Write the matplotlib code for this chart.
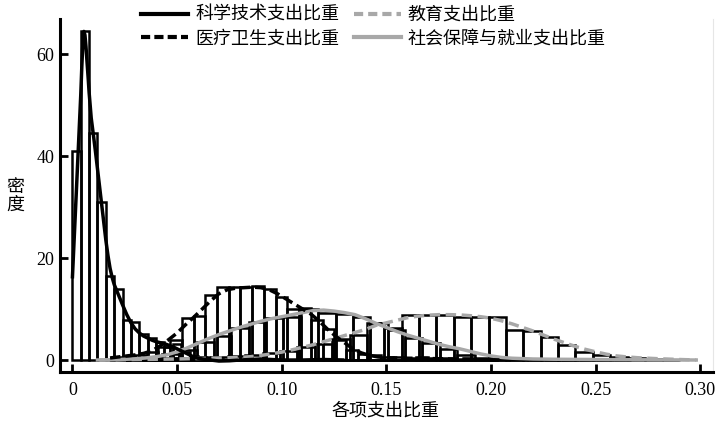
import numpy as np
import matplotlib
matplotlib.use("Agg")
import matplotlib.pyplot as plt
from matplotlib.lines import Line2D

plt.rcParams['font.family'] = ['Liberation Serif', 'Noto Sans CJK SC', 'DejaVu Sans']

# ---------------- data ----------------
series_names = ["科学技术支出比重", "医疗卫生支出比重", "教育支出比重", "社会保障与就业支出比重"]

# histogram densities (bin start, bin width, heights)
sci_bin_start, sci_bin_width = 0.0, 0.004
sci_hist = [41, 64.5, 44.5, 31, 16.5, 14, 7.8, 7.5, 5.2, 4.3, 3.6, 2.5, 3.2, 1.5, 0.8, 0.5, 0.3, 0.2]

med_bin_start, med_bin_width = 0.0187, 0.0056
med_hist = [0.5, 0.8, 1.0, 1.6, 2.6, 3.9, 8.2, 8.6, 12.7, 14.4, 14.3, 14.4, 14.5, 14.0, 12.3,
            10.0, 10.2, 7.8, 6.0, 4.0, 2.0, 1.2, 0.9, 0.5, 0.6, 0.4, 0.5, 0.3, 0.3, 0.2, 0.3, 0.1, 0.1]

edu_bin_start, edu_bin_width = 0.0411, 0.0083
edu_hist = [0.3, 0.4, 0.5, 0.6, 0.8, 1.0, 1.3, 1.8, 2.5, 3.2, 4.2, 5.0, 7.2, 6.2,
            8.8, 8.8, 8.8, 8.5, 8.4, 8.4, 5.9, 5.6, 4.6, 2.9, 1.6, 1.0, 0.6, 0.3, 0.2, 0.1]

soc_bin_start, soc_bin_width = 0.0178, 0.0083
soc_hist = [0.2, 0.3, 0.6, 1.2, 2.0, 3.5, 4.8, 6.2, 7.4, 8.2, 8.5, 10.0, 9.2, 9.0, 8.4, 7.2,
            5.8, 4.3, 3.3, 2.1, 1.0, 0.3, 0.3, 0.2, 0.1, 0.1, 0.05, 0.05, 0.05, 0.05]

# density curves
sci_kde_x = [0.000, 0.001, 0.002, 0.003, 0.004, 0.0045, 0.005, 0.0055, 0.006, 0.0065, 0.007, 0.0076,
             0.008, 0.009, 0.010, 0.011, 0.012, 0.013, 0.014, 0.015, 0.016, 0.017, 0.018, 0.019,
             0.020, 0.022, 0.024, 0.026, 0.028, 0.030, 0.032, 0.034, 0.036, 0.038, 0.040, 0.042,
             0.044, 0.046, 0.048, 0.050, 0.052, 0.054, 0.056, 0.058, 0.060, 0.063, 0.066, 0.070,
             0.075, 0.080, 0.085, 0.090, 0.095, 0.100, 0.110, 0.120, 0.130]
sci_kde_y = [16, 25, 34, 43, 52, 57.5, 62, 64.5, 63.8, 61.5, 58.5, 55,
             52.5, 47.5, 44.3, 41, 37.5, 34, 30.5, 27, 23.5, 20.5, 18, 16.2,
             14.8, 12.8, 10.8, 8.9, 7.3, 6.1, 5.3, 4.7, 4.3, 3.9, 3.6, 3.4,
             3.2, 2.9, 2.6, 2.2, 1.8, 1.4, 1.0, 0.6, 0.35, 0.15, 0.0, -0.2,
             -0.15, 0.0, 0.1, 0.2, 0.1, 0.0, 0.0, 0.1, 0.0]

med_kde_x = [0.018, 0.022, 0.026, 0.030, 0.034, 0.038, 0.042, 0.046, 0.050, 0.054, 0.058, 0.062,
             0.066, 0.070, 0.074, 0.078, 0.082, 0.086, 0.090, 0.094, 0.098, 0.102, 0.106, 0.110,
             0.114, 0.118, 0.122, 0.126, 0.130, 0.134, 0.138, 0.142, 0.146, 0.150, 0.160, 0.170,
             0.180, 0.190, 0.204]
med_kde_y = [0.4, 0.6, 0.8, 1.0, 1.3, 1.8, 2.8, 4.0, 5.3, 6.9, 8.4, 10.0,
             11.6, 13.0, 13.8, 14.1, 14.2, 14.3, 14.2, 13.8, 13.0, 12.0, 11.0, 10.0,
             9.0, 7.6, 6.0, 4.6, 3.4, 2.2, 1.4, 0.9, 0.6, 0.45, 0.35, 0.3,
             0.2, 0.1, 0.0]

edu_kde_x = [0.013, 0.030, 0.050, 0.060, 0.070, 0.080, 0.085, 0.090, 0.095, 0.100, 0.105, 0.110,
             0.115, 0.120, 0.125, 0.130, 0.135, 0.140, 0.145, 0.150, 0.155, 0.160, 0.165, 0.170,
             0.175, 0.180, 0.185, 0.190, 0.195, 0.200, 0.205, 0.210, 0.215, 0.220, 0.225, 0.230,
             0.235, 0.240, 0.245, 0.250, 0.255, 0.260, 0.265, 0.270, 0.280, 0.290, 0.298]
edu_kde_y = [0.0, 0.1, 0.2, 0.3, 0.4, 0.5, 0.65, 0.9, 1.2, 1.55, 2.0, 2.5,
             3.0, 3.6, 4.2, 4.8, 5.4, 6.0, 6.8, 7.3, 7.8, 8.3, 8.6, 8.8,
             8.9, 8.9, 8.85, 8.7, 8.5, 8.2, 7.7, 7.1, 6.4, 5.7, 4.9, 4.1,
             3.4, 2.7, 2.1, 1.6, 1.15, 0.8, 0.6, 0.45, 0.25, 0.1, 0.0]

soc_kde_x = [0.012, 0.020, 0.029, 0.035, 0.040, 0.045, 0.050, 0.055, 0.060, 0.065, 0.070, 0.075,
             0.080, 0.085, 0.090, 0.095, 0.100, 0.105, 0.110, 0.115, 0.120, 0.125, 0.130, 0.135,
             0.140, 0.145, 0.150, 0.155, 0.160, 0.165, 0.170, 0.175, 0.180, 0.185, 0.190, 0.195,
             0.200, 0.205, 0.210, 0.220, 0.230, 0.250, 0.270, 0.298]
soc_kde_y = [0.0, 0.05, 0.2, 0.4, 0.65, 1.0, 1.6, 2.4, 3.3, 4.2, 5.0, 5.7,
             6.4, 7.0, 7.6, 8.1, 8.5, 8.9, 9.3, 9.7, 9.8, 9.6, 9.3, 8.9,
             8.1, 7.2, 6.4, 5.6, 4.9, 4.3, 3.7, 3.1, 2.6, 2.2, 1.7, 1.2,
             0.8, 0.5, 0.35, 0.2, 0.15, 0.1, 0.05, 0.0]

x_ticks = [0, 0.05, 0.10, 0.15, 0.20, 0.25, 0.30]
x_tick_labels = ["0", "0.05", "0.10", "0.15", "0.20", "0.25", "0.30"]
y_ticks = [0, 20, 40, 60]

# ---------------- plot ----------------
fig = plt.figure(figsize=(7.18, 4.26), dpi=100)
ax = fig.add_axes([0.0836, 0.1268, 0.9094, 0.8282])

gray = "#a8a8a8"
hists = [(sci_bin_start, sci_bin_width, sci_hist),
         (med_bin_start, med_bin_width, med_hist),
         (edu_bin_start, edu_bin_width, edu_hist),
         (soc_bin_start, soc_bin_width, soc_hist)]
for start, width, h in hists:
    lefts = start + width * np.arange(len(h))
    ax.bar(lefts, h, width=width, align='edge', fill=False, edgecolor='black',
           linewidth=1.8, zorder=2)

lw = 2.5
ax.plot(sci_kde_x, sci_kde_y, color='black', lw=lw, zorder=4, solid_capstyle='butt')
ax.plot(med_kde_x, med_kde_y, color='black', lw=lw, dashes=(3, 1.4), zorder=4)
ax.plot(edu_kde_x, edu_kde_y, color=gray, lw=lw, dashes=(3, 1.6), zorder=3)
ax.plot(soc_kde_x, soc_kde_y, color=gray, lw=lw, zorder=3)

ax.set_xlim(-0.0059, 0.306)
ax.set_ylim(-2.35, 66.9)
ax.set_xticks(x_ticks)
ax.set_xticklabels(x_tick_labels)
ax.set_yticks(y_ticks)
ax.tick_params(direction='in', length=6, width=2, labelsize=13, color='black')
ax.tick_params(axis='x', pad=7)
ax.tick_params(axis='y', pad=4)

for s in ['left', 'bottom']:
    ax.spines[s].set_linewidth(2.2)
ax.spines['top'].set_visible(False)
ax.spines['right'].set_color('#e6e6e6')
ax.spines['right'].set_linewidth(0.8)

fig.text(385 / 718, 1 - 411 / 426, "各项支出比重", ha='center', va='center', fontsize=13)
fig.text(15 / 718, 1 - 196 / 426, "密\n度", ha='center', va='center', fontsize=13, linespacing=1.05)

handles = [Line2D([], [], color='black', lw=3),
           Line2D([], [], color='black', lw=3, dashes=(2.2, 1.0)),
           Line2D([], [], color=gray, lw=3, dashes=(2.2, 1.2)),
           Line2D([], [], color=gray, lw=3)]
fig.legend(handles, series_names, loc='upper left', bbox_to_anchor=(141 / 718, 1 - 7 / 426),
           ncol=2, frameon=False, fontsize=13, handlelength=2.6, handletextpad=0.4,
           columnspacing=0.8, labelspacing=0.35, borderpad=0, borderaxespad=0)

fig.savefig("out.png", dpi=100)
